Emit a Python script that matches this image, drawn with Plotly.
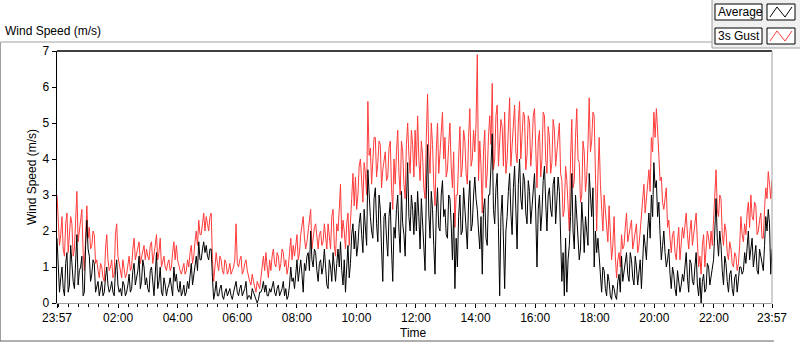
import pandas as pd
import plotly.graph_objects as go

# ---------------- data (m/s) ----------------
# readings on the 5-minute marks
gust_00_06 = [
    3.0, 1.6, 2.4, 1.3, 2.5, 1.8, 2.2, 1.5, 3.1, 2.0, 2.6, 0.9,
    2.7, 2.1, 1.6, 1.9, 1.2, 0.7, 1.0, 0.6, 1.9, 0.9, 1.2, 0.8,
    2.2, 1.1, 0.7, 1.0, 0.8, 1.3, 1.0, 1.8, 1.4, 1.7, 1.3, 1.6,
    1.5, 1.2, 1.7, 1.3, 1.9, 1.4, 1.0, 1.3, 0.9, 1.2, 1.0, 1.7,
    1.6, 1.0, 0.8, 1.1, 0.9, 1.0, 1.6, 1.3, 2.0, 2.3, 1.9, 2.5,
    2.4, 2.0, 2.5, 0.6, 1.4, 0.9, 1.2, 0.8, 1.1, 0.9, 0.8, 1.0,
]
gust_06_12 = [
    2.2, 1.0, 1.3, 0.9, 1.2, 0.7, 0.5, 0.6, 0.3, 0.5, 0.7, 1.3,
    1.4, 0.7, 0.9, 1.5, 1.0, 1.3, 1.1, 1.4, 1.2, 1.0, 1.8, 1.6,
    1.6, 1.2, 1.9, 2.4, 1.5, 2.0, 2.6, 1.8, 2.2, 1.5, 2.0, 1.7,
    1.8, 2.2, 1.5, 2.6, 1.3, 2.0, 3.3, 2.3, 1.5, 2.5, 2.1, 3.6,
    3.5, 3.0, 4.0, 2.8, 3.6, 5.6, 4.3, 3.8, 4.6, 3.9, 4.4, 3.7,
    4.2, 3.5, 4.5, 2.6, 3.3, 4.8, 3.0, 4.2, 2.9, 5.0, 3.6, 4.4,
]
gust_12_18 = [
    4.8, 5.2, 3.4, 4.1, 2.9, 5.8, 3.6, 4.4, 2.7, 5.0, 4.3, 5.3,
    4.6, 3.7, 5.0, 3.2, 2.1, 3.0, 4.9, 3.8, 4.5, 3.3, 5.4, 4.0,
    4.2, 6.9, 4.5, 2.5, 4.8, 3.6, 5.2, 6.1, 4.0, 5.5, 4.4, 4.9,
    5.3, 4.0, 5.7, 4.4, 5.5, 3.9, 5.6, 4.6, 5.2, 4.1, 5.0, 4.3,
    5.4, 3.2, 4.8, 4.0, 5.2, 3.6, 4.6, 3.9, 4.8, 4.2, 5.0, 3.4,
    2.6, 3.4, 2.0, 5.1, 3.4, 5.4, 3.9, 3.0, 4.2, 3.5, 5.7, 4.5,
]
gust_18_24 = [
    5.2, 2.0, 4.6, 2.6, 3.0, 2.2, 2.7, 1.2, 2.4, 0.7, 1.4, 1.9,
    1.6, 2.5, 1.9, 2.3, 1.7, 2.2, 1.6, 2.4, 3.3, 2.9, 3.7, 4.6,
    5.3, 5.4, 4.2, 3.5, 2.6, 3.2, 2.3, 1.4, 2.0, 1.2, 2.1, 1.6,
    1.8, 2.5, 1.5, 2.3, 1.9, 2.5, 1.0, 0.8, 1.9, 1.4, 1.8, 2.0,
    2.3, 3.7, 2.4, 2.9, 1.6, 2.0, 1.2, 1.5, 1.0, 1.3, 1.1, 2.4,
    1.7, 1.9, 2.8, 3.0, 2.3, 2.7, 2.0, 2.5, 1.8, 3.2, 3.65, 2.9,
]
# readings between the 5-minute marks
gust_mid_00_12 = [
    2.1, 1.9, 1.5, 2.2, 1.4, 2.4, 1.3, 2.3, 1.7, 2.4, 1.4, 1.8,
    1.8, 1.5, 2.0, 1.1, 0.9, 1.1, 0.7, 1.5, 1.2, 1.0, 0.7, 1.9,
    1.3, 0.8, 1.2, 0.7, 1.1, 0.9, 1.5, 1.2, 1.6, 1.1, 1.5, 1.2,
    1.3, 1.6, 1.1, 1.6, 1.2, 1.8, 1.2, 1.0, 1.1, 0.9, 1.4, 1.2,
    1.2, 0.9, 1.0, 0.8, 1.2, 1.4, 1.1, 1.7, 1.6, 1.9, 2.2, 2.0,
    2.2, 2.4, 1.2, 1.0, 1.1, 1.3, 0.9, 1.2, 0.8, 1.1, 0.9, 1.2,
    1.1, 1.2, 0.8, 1.1, 0.9, 0.6, 0.8, 0.4, 0.6, 0.4, 1.0, 0.9,
    1.0, 1.2, 1.3, 1.1, 1.4, 0.9, 1.5, 1.0, 0.8, 1.4, 1.2, 1.3,
    1.9, 1.4, 2.2, 1.8, 1.7, 2.3, 1.5, 2.1, 1.8, 1.9, 1.6, 2.2,
    1.5, 1.9, 2.4, 1.6, 2.2, 2.6, 1.8, 2.0, 2.2, 1.6, 2.9, 2.7,
    2.6, 3.8, 3.2, 3.9, 3.0, 4.1, 3.3, 4.6, 3.5, 4.5, 3.2, 4.0,
    3.4, 4.3, 3.2, 4.0, 4.2, 3.6, 4.5, 3.3, 4.4, 4.1, 4.8, 3.5,
]
gust_mid_12_24 = [
    3.8, 4.0, 4.5, 3.2, 4.6, 4.2, 5.0, 3.3, 4.2, 3.6, 4.9, 4.0,
    3.5, 4.4, 3.8, 4.2, 3.0, 4.0, 3.5, 4.8, 3.6, 4.6, 3.8, 4.8,
    5.0, 3.4, 3.8, 4.2, 3.2, 4.6, 4.4, 3.7, 5.2, 3.8, 5.1, 3.8,
    3.6, 5.0, 3.8, 5.1, 4.2, 5.0, 4.0, 5.3, 3.7, 5.2, 3.8, 5.2,
    4.2, 4.5, 3.5, 5.3, 4.0, 4.9, 3.6, 5.1, 3.8, 4.6, 3.6, 2.4,
    3.8, 2.7, 4.0, 3.2, 4.6, 4.0, 2.8, 4.5, 3.1, 4.4, 4.2, 5.3,
    3.6, 3.5, 3.3, 2.0, 2.6, 1.7, 2.0, 1.6, 1.3, 1.2, 1.0, 1.5,
    2.1, 1.7, 2.2, 1.5, 2.0, 1.4, 2.0, 2.7, 2.5, 3.4, 3.1, 4.2,
    4.6, 4.8, 3.4, 2.8, 3.0, 2.1, 1.8, 1.9, 1.4, 1.7, 1.2, 2.1,
    2.2, 1.9, 2.0, 1.6, 2.3, 1.7, 1.3, 1.6, 1.0, 2.0, 1.5, 1.6,
    2.9, 2.6, 3.0, 1.9, 2.2, 1.4, 1.7, 1.1, 1.4, 0.9, 1.6, 1.9,
    2.2, 2.5, 2.1, 2.4, 2.8, 1.9, 2.3, 1.8, 2.6, 2.9, 3.3, 3.4,
]

avg_00_06 = [
    1.8, 0.3, 1.0, 0.2, 1.4, 0.5, 1.1, 0.4, 1.9, 0.9, 1.3, 0.3,
    2.3, 1.3, 0.8, 1.1, 0.5, 0.2, 0.6, 0.3, 1.0, 0.3, 0.6, 0.2,
    1.2, 0.3, 0.2, 0.5, 0.3, 0.8, 0.4, 1.1, 0.7, 1.3, 0.6, 1.0,
    0.7, 0.3, 1.0, 0.2, 1.4, 0.6, 0.3, 0.7, 0.2, 0.5, 0.4, 1.0,
    0.8, 0.3, 0.2, 0.5, 0.3, 0.4, 1.1, 0.8, 1.3, 1.7, 1.2, 1.7,
    1.6, 1.2, 1.5, 0.1, 0.6, 0.2, 0.5, 0.1, 0.4, 0.3, 0.2, 0.3,
]
avg_06_12 = [
    0.6, 0.2, 0.5, 0.3, 0.6, 0.2, 0.1, 0.3, 0.1, 0.1, 0.3, 0.6,
    0.5, 0.2, 0.3, 0.6, 0.2, 0.5, 0.3, 0.6, 0.4, 0.2, 1.0, 0.7,
    0.8, 0.6, 1.2, 0.3, 0.9, 1.4, 2.0, 1.0, 1.4, 0.6, 1.2, 1.0,
    0.8, 0.4, 1.0, 1.4, 0.6, 1.5, 1.7, 0.5, 0.3, 1.6, 1.1, 2.2,
    2.0, 1.6, 2.5, 1.4, 2.1, 3.7, 2.4, 1.8, 3.2, 1.7, 2.6, 0.6,
    2.5, 1.3, 2.8, 0.6, 1.8, 3.0, 1.4, 2.2, 1.3, 3.9, 2.0, 2.6,
]
avg_12_18 = [
    2.8, 3.1, 1.5, 2.3, 0.9, 4.4, 1.8, 2.6, 0.8, 3.2, 2.0, 3.4,
    2.6, 1.8, 2.9, 1.2, 0.4, 1.0, 3.0, 2.0, 2.7, 1.5, 3.4, 2.2,
    3.5, 2.6, 1.5, 0.8, 2.9, 1.6, 3.0, 4.7, 2.2, 3.6, 0.2, 3.0,
    0.4, 2.4, 3.6, 1.9, 3.8, 1.5, 4.0, 2.6, 3.4, 2.2, 3.1, 2.7,
    3.6, 1.0, 3.0, 2.5, 3.8, 2.0, 3.2, 2.4, 3.5, 2.8, 3.1, 0.6,
    0.2, 0.3, 1.6, 3.6, 1.5, 2.3, 1.2, 2.8, 1.4, 2.0, 3.6, 2.4,
]
avg_18_24 = [
    1.0, 1.4, 1.2, 0.3, 0.9, 0.2, 0.6, 0.1, 0.4, 0.1, 0.8, 1.3,
    0.9, 1.4, 0.6, 1.2, 0.5, 1.0, 0.8, 0.4, 1.9, 1.2, 2.5, 3.0,
    3.9, 3.4, 2.8, 1.2, 2.0, 1.0, 1.5, 0.4, 0.8, 0.2, 0.6, 0.5,
    0.6, 1.4, 0.3, 1.1, 0.5, 1.4, 0.2, 0.0, 0.8, 0.4, 1.0, 0.7,
    1.2, 2.9, 1.3, 1.6, 0.5, 1.1, 0.3, 0.9, 0.2, 0.8, 0.6, 1.0,
    0.9, 1.1, 2.0, 1.5, 1.0, 1.6, 0.8, 1.3, 0.9, 2.4, 2.6, 0.8,
]
avg_mid_00_12 = [
    0.9, 0.7, 0.4, 1.1, 0.3, 1.6, 0.6, 1.2, 0.5, 1.0, 0.2, 1.6,
    1.5, 0.6, 1.2, 0.3, 0.6, 0.4, 0.2, 0.7, 0.5, 0.4, 0.3, 0.9,
    0.5, 0.4, 0.6, 0.2, 0.5, 0.3, 0.9, 0.5, 0.9, 0.4, 1.2, 0.5,
    0.4, 0.9, 0.5, 0.8, 0.4, 1.0, 0.2, 0.5, 0.4, 0.7, 0.2, 0.6,
    0.4, 0.6, 0.3, 0.2, 0.6, 0.8, 0.5, 1.0, 0.9, 1.2, 1.5, 1.4,
    1.3, 1.5, 0.7, 0.3, 0.2, 0.4, 0.2, 0.3, 0.2, 0.4, 0.1, 0.5,
    0.3, 0.4, 0.2, 0.4, 0.1, 0.2, 0.4, 0.2, 0.0, 0.3, 0.4, 0.3,
    0.2, 0.4, 0.5, 0.3, 0.4, 0.2, 0.4, 0.2, 0.1, 0.5, 0.6, 0.4,
    1.2, 0.9, 0.8, 1.1, 1.3, 0.9, 1.2, 1.5, 0.9, 1.1, 0.8, 1.5,
    0.5, 1.2, 0.6, 0.9, 1.1, 1.0, 0.9, 1.2, 1.0, 0.7, 1.9, 1.5,
    1.3, 2.2, 1.9, 2.6, 1.6, 2.8, 2.0, 2.9, 2.2, 3.0, 1.5, 2.4,
    1.8, 2.4, 1.5, 2.1, 2.6, 2.0, 3.1, 1.9, 2.8, 2.4, 3.0, 1.9,
]
avg_mid_12_24 = [
    2.0, 2.4, 2.9, 1.7, 3.0, 2.5, 3.1, 1.6, 2.5, 2.1, 3.0, 2.4,
    1.9, 3.0, 2.2, 2.5, 1.8, 2.4, 1.9, 3.2, 1.9, 2.8, 2.0, 3.0,
    2.9, 2.0, 2.4, 2.6, 1.8, 3.0, 3.8, 2.6, 3.2, 2.1, 2.4, 1.8,
    2.0, 3.1, 2.5, 3.2, 2.6, 3.3, 2.9, 3.6, 2.5, 3.4, 2.2, 3.3,
    2.5, 2.6, 2.0, 3.4, 2.8, 3.0, 2.6, 3.3, 2.2, 3.5, 2.0, 1.4,
    1.8, 1.2, 2.4, 2.0, 3.0, 1.8, 1.5, 2.2, 2.4, 1.6, 2.8, 3.2,
    2.0, 1.8, 0.8, 1.0, 0.4, 0.8, 0.2, 0.5, 0.2, 0.6, 0.3, 0.6,
    1.2, 0.8, 1.4, 0.7, 1.3, 0.5, 1.2, 1.0, 1.6, 2.0, 1.8, 2.4,
    3.2, 2.4, 1.9, 1.6, 1.4, 1.2, 0.8, 1.0, 0.4, 0.9, 0.3, 0.8,
    1.0, 0.7, 1.2, 0.6, 1.0, 0.5, 0.7, 0.6, 0.3, 1.1, 0.5, 0.9,
    2.0, 1.8, 2.0, 0.9, 1.3, 0.6, 0.8, 0.4, 0.7, 0.3, 1.0, 0.8,
    1.4, 1.6, 1.2, 1.8, 1.3, 0.9, 1.5, 1.0, 1.6, 2.0, 2.2, 1.5,
]

start_time = "2023-01-01 23:57"
end_time = "2023-01-02 23:57"
tick_times = ["2023-01-01 23:57", "2023-01-02 02:00", "2023-01-02 04:00", "2023-01-02 06:00",
              "2023-01-02 08:00", "2023-01-02 10:00", "2023-01-02 12:00", "2023-01-02 14:00",
              "2023-01-02 16:00", "2023-01-02 18:00", "2023-01-02 20:00", "2023-01-02 22:00",
              "2023-01-02 23:57"]
tick_labels = ["23:57", "02:00", "04:00", "06:00", "08:00", "10:00", "12:00", "14:00",
               "16:00", "18:00", "20:00", "22:00", "23:57"]
y_ticks = [0, 1, 2, 3, 4, 5, 6, 7]


def weave(marks, mids):
    out = []
    for a, b in zip(marks, mids):
        out.extend([a, b])
    return out


gust = weave(gust_00_06 + gust_06_12 + gust_12_18 + gust_18_24, gust_mid_00_12 + gust_mid_12_24)
avg = weave(avg_00_06 + avg_06_12 + avg_12_18 + avg_18_24, avg_mid_00_12 + avg_mid_12_24)
times = pd.date_range(start_time, end_time, periods=len(gust))

# ---------------- layout geometry (pixels) ----------------
W, H = 800, 342
L, R, T, B = 57, 772, 51, 303


def px(x):
    return (x - L) / (R - L)


def py(y):
    return (B - y) / (B - T)


FONT = "Liberation Sans, Arial, sans-serif"
GREY = "#a0a0a0"

fig = go.Figure()
fig.add_trace(go.Scatter(x=times, y=gust, mode="lines", name="3s Gust",
                         line=dict(color="#ff3b3b", width=1), hoverinfo="skip"))
fig.add_trace(go.Scatter(x=times, y=avg, mode="lines", name="Average",
                         line=dict(color="#000000", width=1), hoverinfo="skip"))

shapes = []
annotations = []

# outer chart frame (grey)
shapes.append(dict(type="line", xref="paper", yref="paper", x0=px(0.5), x1=px(712), y0=py(42), y1=py(42),
                   line=dict(color=GREY, width=1)))
shapes.append(dict(type="line", xref="paper", yref="paper", x0=px(0.5), x1=px(0.5), y0=py(42), y1=py(341),
                   line=dict(color=GREY, width=1)))
shapes.append(dict(type="line", xref="paper", yref="paper", x0=px(0), x1=px(774), y0=py(341), y1=py(341),
                   line=dict(color="#606060", width=1)))
# plot frame: top black, right grey
shapes.append(dict(type="line", xref="paper", yref="paper", x0=0, x1=1, y0=1, y1=1,
                   line=dict(color="#000000", width=1.5)))
shapes.append(dict(type="line", xref="paper", yref="paper", x0=1, x1=1, y0=0, y1=1,
                   line=dict(color=GREY, width=1)))

# legend panel
shapes.append(dict(type="rect", xref="paper", yref="paper", x0=px(712), x1=px(801), y0=py(48), y1=py(-1),
                   fillcolor="#f0f0f0", line=dict(color=GREY, width=1), layer="above"))
legend_items = [("Average", "#000000", 4), ("3s Gust", "#ff3b3b", 28)]
for name, color, top in legend_items:
    bot = top + 16
    shapes.append(dict(type="rect", xref="paper", yref="paper", x0=px(715), x1=px(762), y0=py(bot), y1=py(top),
                       fillcolor="#ffffff", line=dict(color="#000000", width=1), layer="above"))
    shapes.append(dict(type="rect", xref="paper", yref="paper", x0=px(767), x1=px(795), y0=py(bot), y1=py(top),
                       fillcolor="#ffffff", line=dict(color="#000000", width=1), layer="above"))
    zx = [770, 777, 785, 792]
    zy = [bot - 3, top + 3, bot - 3, top + 3]
    path = "M " + " L ".join(f"{px(a):.5f},{py(b):.5f}" for a, b in zip(zx, zy))
    shapes.append(dict(type="path", xref="paper", yref="paper", path=path,
                       line=dict(color=color, width=1), layer="above"))
    annotations.append(dict(text=name, xref="paper", yref="paper", x=px(716), y=py((top + bot) / 2),
                            xanchor="left", yanchor="middle", showarrow=False,
                            font=dict(family=FONT, size=12, color="#000000")))

# chart title
annotations.append(dict(text="Wind Speed (m/s)", xref="paper", yref="paper", x=px(3), y=py(31),
                        xanchor="left", yanchor="middle", showarrow=False,
                        font=dict(family=FONT, size=12, color="#000000")))
# axis titles
annotations.append(dict(text="Wind Speed (m/s)", xref="paper", yref="paper", x=px(32), y=py(177),
                        xanchor="center", yanchor="middle", showarrow=False, textangle=-90,
                        font=dict(family=FONT, size=12, color="#000000")))
annotations.append(dict(text="Time", xref="paper", yref="paper", x=px(413), y=py(333),
                        xanchor="center", yanchor="middle", showarrow=False,
                        font=dict(family=FONT, size=12, color="#000000")))

fig.update_layout(
    width=W, height=H,
    margin=dict(l=L, r=W - R, t=T, b=H - B, pad=0),
    paper_bgcolor="#ffffff", plot_bgcolor="#ffffff",
    showlegend=False,
    shapes=shapes, annotations=annotations,
    font=dict(family=FONT, size=12, color="#000000"),
)
fig.update_xaxes(
    type="date", range=[start_time, end_time],
    tickmode="array", tickvals=tick_times, ticktext=tick_labels,
    showgrid=False, zeroline=False,
    showline=True, linecolor=GREY, linewidth=1,
    ticks="outside", ticklen=4, tickcolor="#000000",
    tickfont=dict(family=FONT, size=12, color="#000000"),
    minor=dict(ticks="outside", ticklen=3, tickcolor="#000000", dtick=20 * 60 * 1000,
               tick0="2023-01-02 00:00", showgrid=False),
)
fig.update_yaxes(
    range=[0, 7], tickmode="array", tickvals=y_ticks,
    showgrid=False, zeroline=False,
    showline=True, linecolor="#000000", linewidth=1.5,
    ticks="outside", ticklen=4, tickcolor="#000000",
    tickfont=dict(family=FONT, size=12, color="#000000"),
)

fig.write_html("out.html", config={"displayModeBar": False, "staticPlot": True},
               post_script="document.body.style.margin='0px';document.body.style.overflow='hidden';")
